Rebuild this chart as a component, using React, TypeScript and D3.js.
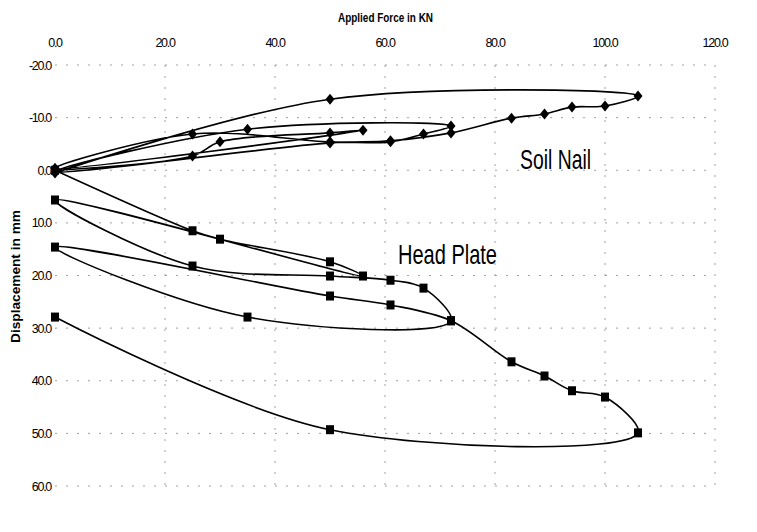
import { useEffect, useRef } from 'react';
import * as d3 from 'd3';

// load steps of the test (kN), shared by both readings
const loads = [0, 25, 30, 50, 56, 0, 25, 50, 61, 67, 72, 35, 0, 50, 61, 72, 83, 89, 94, 100, 106, 50, 0];
// displacement readings (mm)
const soilNail = [0, -2.7, -5.4, -7.1, -7.6, -0.4, -6.9, -5.4, -5.4, -6.9, -8.4, -7.8, 0.3, -5.2, -5.6, -7.1, -9.9, -10.7, -12.0, -12.2, -14.1, -13.5, 0.5];
const headPlate = [0, 11.5, 13.1, 17.4, 20.1, 5.65, 18.2, 20.1, 20.9, 22.4, 28.6, 27.9, 14.6, 23.9, 25.6, 28.6, 36.4, 39.1, 41.9, 43.1, 49.9, 49.3, 27.9];

const xTicks = [0, 20, 40, 60, 80, 100, 120];
const yTicks = [-20, -10, 0, 10, 20, 30, 40, 50, 60];

function LoadChart() {
  const svgRef = useRef(null);

  useEffect(() => {
    const width = 757;
    const height = 532;
    const font = '"Liberation Sans", Arial, sans-serif';

    const svg = d3.select(svgRef.current);
    svg.selectAll('*').remove();
    svg.attr('width', width).attr('height', height);

    svg.append('rect').attr('width', width).attr('height', height).attr('fill', '#fff');

    const x = d3.scaleLinear().domain([0, 120]).range([55, 715]);
    const y = d3.scaleLinear().domain([-20, 60]).range([65, 486]);

    // grid (sparse dotted, like the scan)
    const grid = svg.append('g').attr('stroke', '#888').attr('stroke-width', 0.8).attr('stroke-dasharray', '2,9');
    grid
      .selectAll('line.v')
      .data(xTicks.slice(1))
      .enter()
      .append('line')
      .attr('x1', (d) => x(d))
      .attr('x2', (d) => x(d))
      .attr('y1', y(-20))
      .attr('y2', y(60));
    grid
      .selectAll('line.h')
      .data(yTicks)
      .enter()
      .append('line')
      .attr('x1', x(0))
      .attr('x2', x(120))
      .attr('y1', (d) => y(d))
      .attr('y2', (d) => y(d));

    // x tick labels (top)
    svg
      .append('g')
      .selectAll('text')
      .data(xTicks)
      .enter()
      .append('text')
      .attr('x', (d) => x(d))
      .attr('y', 47)
      .attr('text-anchor', 'middle')
      .attr('font-family', font)
      .attr('font-size', 12.5)
      .attr('letter-spacing', -1.3)
      .text((d) => d.toFixed(1));

    // y tick labels
    svg
      .append('g')
      .selectAll('text')
      .data(yTicks)
      .enter()
      .append('text')
      .attr('x', 51)
      .attr('y', (d) => y(d) + 4.5)
      .attr('text-anchor', 'end')
      .attr('font-family', font)
      .attr('font-size', 12.5)
      .attr('letter-spacing', -1.3)
      .text((d) => d.toFixed(1));

    // titles
    svg
      .append('text')
      .attr('x', 338)
      .attr('y', 22)
      .attr('font-family', font)
      .attr('font-weight', 'bold')
      .attr('font-size', 12.5)
      .attr('textLength', 95)
      .attr('lengthAdjust', 'spacingAndGlyphs')
      .text('Applied Force in KN');

    svg
      .append('text')
      .attr('transform', 'translate(20, 343) rotate(-90)')
      .attr('font-family', font)
      .attr('font-weight', 'bold')
      .attr('font-size', 12.5)
      .attr('textLength', 133)
      .attr('lengthAdjust', 'spacingAndGlyphs')
      .text('Displacement in mm');

    svg
      .append('text')
      .attr('x', 520)
      .attr('y', 169)
      .attr('font-family', font)
      .attr('font-size', 28)
      .attr('textLength', 71)
      .attr('lengthAdjust', 'spacingAndGlyphs')
      .text('Soil Nail');

    svg
      .append('text')
      .attr('x', 398)
      .attr('y', 264)
      .attr('font-family', font)
      .attr('font-size', 28)
      .attr('textLength', 99)
      .attr('lengthAdjust', 'spacingAndGlyphs')
      .text('Head Plate');

    const line = d3
      .line()
      .x((d) => x(d[0]))
      .y((d) => y(d[1]))
      .curve(d3.curveCatmullRom.alpha(0.5));

    const series = [
      { values: soilNail, marker: 'diamond' },
      { values: headPlate, marker: 'square' },
    ];

    series.forEach((s) => {
      const pts = loads.map((l, i) => [l, s.values[i]]);
      svg
        .append('path')
        .attr('d', line(pts))
        .attr('fill', 'none')
        .attr('stroke', '#000')
        .attr('stroke-width', 1.6);

      const g = svg.append('g').attr('fill', '#000');
      if (s.marker === 'diamond') {
        g.selectAll('path')
          .data(pts)
          .enter()
          .append('path')
          .attr('d', (d) => {
            const cx = x(d[0]);
            const cy = y(d[1]);
            return `M${cx},${cy - 5.5}L${cx + 4.5},${cy}L${cx},${cy + 5.5}L${cx - 4.5},${cy}Z`;
          });
      } else {
        g.selectAll('rect')
          .data(pts)
          .enter()
          .append('rect')
          .attr('x', (d) => x(d[0]) - 4)
          .attr('y', (d) => y(d[1]) - 4.5)
          .attr('width', 8)
          .attr('height', 9);
      }
    });
  }, []);

  return <svg ref={svgRef} style={{ position: 'absolute', left: 0, top: 0 }}></svg>;
}

export default function App() {
  return <LoadChart />;
}
